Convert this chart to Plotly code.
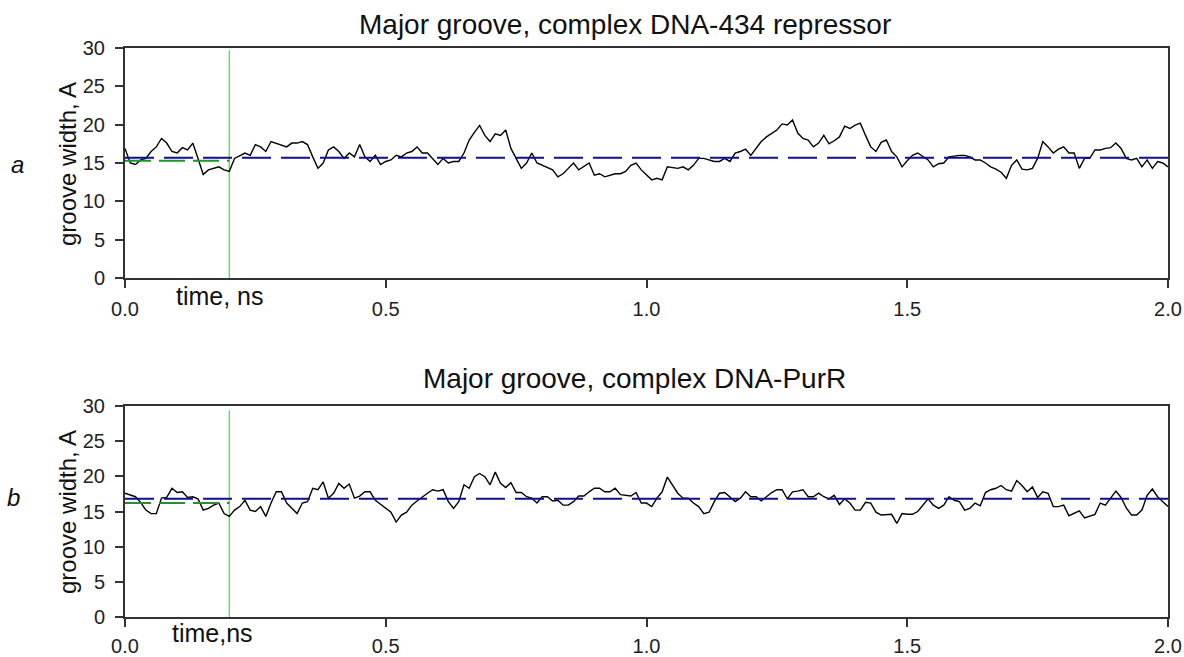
import numpy as np
import plotly.graph_objects as go

# ---------------- data ----------------
time_ns = np.round(np.arange(201) * 0.01, 2)

width_434 = [
    16.9, 15.0, 14.8, 15.4, 15.6, 16.5, 17.1, 18.2, 17.6, 16.5,
    16.3, 17.0, 16.7, 17.6, 15.6, 13.5, 14.1, 14.3, 14.5, 14.1,
    13.9, 15.6, 16.0, 16.3, 16.0, 17.4, 17.1, 16.5, 17.8, 17.6,
    17.4, 17.1, 17.6, 17.6, 17.8, 17.4, 15.8, 14.3, 15.0, 16.7,
    17.1, 16.5, 15.6, 16.3, 15.8, 17.4, 15.8, 15.2, 16.0, 14.8,
    15.2, 15.4, 16.0, 15.8, 16.3, 16.5, 17.1, 16.3, 16.3, 15.6,
    14.8, 15.6, 15.0, 15.2, 15.2, 16.3, 18.0, 19.0, 19.9, 18.6,
    17.8, 18.8, 18.6, 19.3, 16.9, 15.6, 14.3, 15.0, 16.3, 15.0,
    14.7, 14.5, 14.1, 13.2, 13.6, 14.3, 15.0, 14.1, 14.5, 15.0,
    13.4, 13.6, 13.2, 13.4, 13.6, 13.6, 13.9, 14.7, 15.0, 14.1,
    13.4, 12.8, 13.0, 12.8, 14.5, 14.4, 14.3, 14.5, 14.1, 14.7,
    15.6, 15.6, 15.4, 15.2, 15.2, 15.6, 15.2, 16.3, 16.5, 16.8,
    16.0, 16.9, 17.8, 18.4, 18.8, 19.3, 20.1, 19.95, 20.6, 18.9,
    18.2, 18.0, 17.1, 17.6, 18.6, 17.5, 17.9, 18.4, 19.8, 19.5,
    19.95, 20.2, 18.6, 17.1, 16.5, 17.7, 18.0, 16.5, 15.8, 14.5,
    15.3, 16.0, 16.3, 15.8, 15.4, 14.5, 14.9, 15.0, 15.8, 15.9,
    16.0, 16.0, 15.8, 15.4, 15.4, 15.0, 14.5, 14.2, 13.8, 13.0,
    14.7, 15.4, 14.2, 14.1, 14.3, 15.6, 17.8, 17.1, 16.3, 16.8,
    17.1, 16.3, 16.3, 14.3, 15.6, 15.6, 16.7, 16.7, 16.9, 17.0,
    17.6, 16.9, 15.6, 15.4, 15.6, 14.5, 15.4, 14.3, 15.2, 15.0,
    14.5,
]

width_purr = [
    17.6, 17.4, 17.1, 16.3, 15.2, 14.7, 14.7, 16.9, 17.0, 18.3,
    17.7, 17.8, 17.0, 17.1, 16.8, 15.2, 15.45, 15.9, 16.2, 14.7,
    14.3, 15.2, 15.7, 16.6, 15.2, 15.0, 15.7, 14.3, 16.2, 17.8,
    17.8, 16.2, 15.45, 14.7, 16.2, 16.4, 18.3, 18.1, 19.2, 16.9,
    17.6, 19.0, 18.3, 18.9, 16.9, 17.2, 17.8, 17.8, 16.6, 16.0,
    15.45, 14.9, 13.5, 14.5, 14.9, 15.9, 16.5, 17.1, 17.6, 18.1,
    17.9, 18.1, 16.4, 15.45, 16.4, 18.8, 18.3, 19.95, 20.4, 19.95,
    18.8, 20.6, 19.0, 18.4, 19.1, 17.7, 17.7, 17.1, 16.9, 16.2,
    17.1, 17.1, 16.5, 16.6, 15.9, 15.9, 16.4, 17.2, 17.2, 17.8,
    18.3, 18.3, 17.8, 17.8, 18.3, 17.4, 17.3, 17.2, 17.7, 16.2,
    16.2, 15.7, 16.9, 17.8, 19.9, 18.8, 17.6, 16.9, 16.9, 16.2,
    15.7, 14.7, 14.9, 16.4, 17.6, 17.7, 17.1, 16.4, 16.9, 17.8,
    17.1, 17.1, 16.5, 17.1, 17.7, 18.1, 18.1, 16.8, 17.8, 17.9,
    18.1, 17.1, 17.1, 17.6, 17.1, 16.8, 17.3, 16.0, 16.8, 16.2,
    15.2, 15.2, 16.3, 16.2, 14.9, 14.5, 14.5, 14.6, 13.3, 14.7,
    14.6, 14.6, 15.0, 15.9, 16.8, 15.9, 15.45, 15.9, 17.1, 16.6,
    16.4, 15.2, 15.45, 16.2, 15.8, 17.7, 18.1, 18.3, 18.7, 18.1,
    17.9, 19.4, 18.7, 17.8, 18.5, 17.0, 17.8, 17.6, 15.7, 15.7,
    15.9, 14.4, 14.7, 15.1, 14.1, 14.3, 14.6, 16.2, 15.9, 16.9,
    17.9, 17.0, 15.5, 14.5, 14.5, 15.2, 17.3, 18.2, 17.1, 16.4,
    15.7,
]

equil_time = 0.2          # green vertical marker, ns
mean_full = [15.7, 16.8]  # blue dashed mean over 0-2 ns
mean_equil = [15.3, 16.2] # green dashed mean over 0-0.2 ns
marker_top = [29.7, 29.4]

titles = ["Major groove, complex DNA-434 repressor", "Major groove, complex DNA-PurR"]
xlabels = ["time, ns", "time,ns"]
panel_letters = ["a", "b"]
ylabel = "groove width, A"
x_ticks = [0.0, 0.5, 1.0, 1.5, 2.0]
y_ticks = [0, 5, 10, 15, 20, 25, 30]

# ---------------- layout geometry (pixels) ----------------
W, H = 1184, 657
L, R, T, B = 125, 1168, 48, 617   # plot-area box in page pixels
FONT = "Liberation Sans, Arial, sans-serif"

def px(x):
    return (x - L) / (R - L)

def py(y):
    return (B - y) / (B - T)

fig = go.Figure()

series = [width_434, width_purr]
for i in range(2):
    xa = "x" if i == 0 else "x2"
    ya = "y" if i == 0 else "y2"
    fig.add_trace(go.Scatter(x=[equil_time, equil_time], y=[0, marker_top[i]], mode="lines",
                             line=dict(color="#3fe83f", width=1.3), xaxis=xa, yaxis=ya,
                             showlegend=False, hoverinfo="skip"))
    fig.add_trace(go.Scatter(x=time_ns, y=series[i], mode="lines",
                             line=dict(color="#000000", width=1.4), xaxis=xa, yaxis=ya,
                             showlegend=False))
    fig.add_trace(go.Scatter(x=[0, equil_time], y=[mean_equil[i]] * 2, mode="lines",
                             line=dict(color="#2a8f2a", width=2, dash="26px,8px"),
                             xaxis=xa, yaxis=ya, showlegend=False))
    fig.add_trace(go.Scatter(x=[0, 2.0], y=[mean_full[i]] * 2, mode="lines",
                             line=dict(color="#10108a", width=2, dash="29px,10px"),
                             xaxis=xa, yaxis=ya, showlegend=False))

axis_common = dict(showline=True, linecolor="#333333", linewidth=2, mirror=True,
                   ticks="outside", ticklen=8, tickwidth=1.5, tickcolor="#333333",
                   showgrid=False, zeroline=False, automargin=False,
                   tickfont=dict(family=FONT, size=20, color="#222222"))

fig.update_layout(
    width=W, height=H,
    margin=dict(l=L, r=W - R, t=T, b=H - B, autoexpand=False),
    paper_bgcolor="white", plot_bgcolor="white",
    xaxis=dict(domain=[0, 1], range=[0, 2.0], tickvals=x_ticks, tickformat=".1f",
               anchor="y", ticklabelstandoff=4, **axis_common),
    yaxis=dict(domain=[py(278), 1], range=[0, 30], tickvals=y_ticks,
               anchor="x", ticklabelstandoff=6, **axis_common),
    xaxis2=dict(domain=[0, 1], range=[0, 2.0], tickvals=x_ticks, tickformat=".1f",
                anchor="y2", ticklabelstandoff=2, **axis_common),
    yaxis2=dict(domain=[0, py(406)], range=[0, 30], tickvals=y_ticks,
                anchor="x2", ticklabelstandoff=6, **axis_common),
)

ann = []
title_pos = [(625, 25), (634, 378)]
ylab_pos = [(67, 164), (67, 512)]
xlab_pos = [(220, 296), (212, 633)]
letter_pos = [(17, 165), (13, 497)]
for i in range(2):
    ann.append(dict(text=titles[i], x=px(title_pos[i][0]), y=py(title_pos[i][1]),
                    xref="paper", yref="paper", showarrow=False, xanchor="center", yanchor="middle",
                    font=dict(family=FONT, size=28, color="#111111")))
    ann.append(dict(text=ylabel, x=px(ylab_pos[i][0]), y=py(ylab_pos[i][1]), textangle=-90,
                    xref="paper", yref="paper", showarrow=False, xanchor="center", yanchor="middle",
                    font=dict(family=FONT, size=24, color="#111111")))
    ann.append(dict(text=xlabels[i], x=px(xlab_pos[i][0]), y=py(xlab_pos[i][1]),
                    xref="paper", yref="paper", showarrow=False, xanchor="center", yanchor="middle",
                    font=dict(family=FONT, size=25, color="#111111")))
    ann.append(dict(text="<i>" + panel_letters[i] + "</i>", x=px(letter_pos[i][0]), y=py(letter_pos[i][1]),
                    xref="paper", yref="paper", showarrow=False, xanchor="center", yanchor="middle",
                    font=dict(family=FONT, size=24, color="#111111")))
fig.update_layout(annotations=ann)

fig.write_html(
    "out.html",
    config={"displayModeBar": False},
    post_script="document.documentElement.style.margin='0';document.body.style.margin='0';"
                "document.body.style.padding='0';document.body.style.overflow='hidden';",
)
